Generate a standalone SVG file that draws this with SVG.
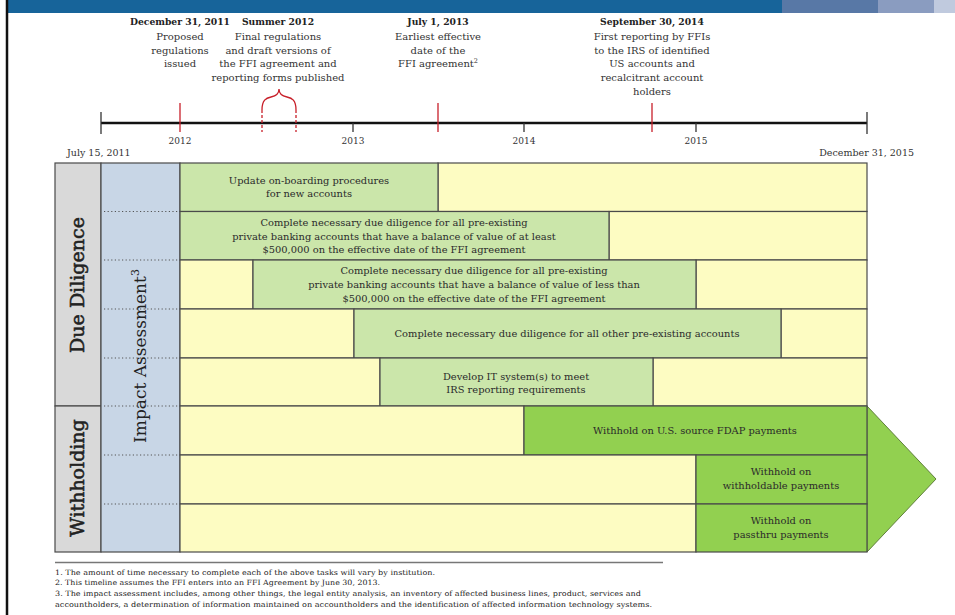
<svg xmlns="http://www.w3.org/2000/svg" width="955" height="615" viewBox="0 0 955 615">
<style>
text{font-family:"DejaVu Serif","Liberation Serif",serif;fill:#333}
.hd{font-size:9.2px;font-weight:bold;text-anchor:middle;fill:#222}
.ds{font-size:10px;text-anchor:middle}
.yr{font-size:9px;text-anchor:middle}
.bx{font-size:9.9px;text-anchor:middle;fill:#2a2a2a}
.fn{font-size:7.3px;fill:#222}
.cell{stroke:#4a4a4a;stroke-width:1.2}
.g{fill:#cbe6aa}
.y{fill:#fdfcc2}
.gg{fill:#92d050}
.red{stroke:#c8202a;stroke-width:1.3;fill:none}
.dot{stroke:#555;stroke-width:1;stroke-dasharray:1.2 2.4}
.side{font-size:19px;text-anchor:middle;fill:#222;stroke:#222;stroke-width:0.55}
</style>
<rect x="0" y="0" width="955" height="615" fill="#fff"/>
<g id="header">
<rect x="8" y="0" width="774" height="13" fill="#17649a"/>
<rect x="782" y="0" width="96" height="13" fill="#5878a6"/>
<rect x="878" y="0" width="56" height="13" fill="#8a9cc0"/>
<rect x="934" y="0" width="21" height="13" fill="#c0cade"/>
<line x1="7" y1="0" x2="7" y2="615" stroke="#111" stroke-width="2.5"/>
</g>
<g id="timeline">
<line x1="101" y1="123" x2="867" y2="123" stroke="#111" stroke-width="2.5"/>
<line x1="101" y1="112" x2="101" y2="134" stroke="#333" stroke-width="1.3"/>
<line x1="867" y1="112" x2="867" y2="134" stroke="#333" stroke-width="1.3"/>
<line x1="353" y1="123" x2="353" y2="132" stroke="#333" stroke-width="1.3"/>
<line x1="524" y1="123" x2="524" y2="132" stroke="#333" stroke-width="1.3"/>
<line x1="696" y1="123" x2="696" y2="132" stroke="#333" stroke-width="1.3"/>
<line class="red" x1="180" y1="103" x2="180" y2="132"/>
<line class="red" x1="438" y1="103" x2="438" y2="132"/>
<line class="red" x1="652" y1="103" x2="652" y2="132"/>
<path class="red" d="M262,110 C262,100 266,98 271,97 C276,96 279,94 279,89 C279,94 282,96 287,97 C292,98 296,100 296,110"/>
<line class="red" x1="262" y1="110" x2="262" y2="132" stroke-dasharray="3 2"/>
<line class="red" x1="296" y1="110" x2="296" y2="132" stroke-dasharray="3 2"/>
<text class="yr" x="180" y="144">2012</text>
<text class="yr" x="353" y="144">2013</text>
<text class="yr" x="524" y="144">2014</text>
<text class="yr" x="696" y="144">2015</text>
<text x="67" y="156" style="font-size:9.5px">July 15, 2011</text>
<text x="914" y="156" style="font-size:9.5px;text-anchor:end">December 31, 2015</text>
</g>
<g id="milestone-dec2011">
<text class="hd" x="180" y="25">December 31, 2011</text>
<text class="ds" x="180" y="40">Proposed</text>
<text class="ds" x="180" y="54">regulations</text>
<text class="ds" x="180" y="67">issued</text>
</g>
<g id="milestone-summer2012">
<text class="hd" x="278" y="25">Summer 2012</text>
<text class="ds" x="278" y="40">Final regulations</text>
<text class="ds" x="278" y="54">and draft versions of</text>
<text class="ds" x="278" y="67">the FFI agreement and</text>
<text class="ds" x="278" y="81">reporting forms published</text>
</g>
<g id="milestone-jul2013">
<text class="hd" x="438" y="25">July 1, 2013</text>
<text class="ds" x="438" y="40">Earliest effective</text>
<text class="ds" x="438" y="54">date of the</text>
<text class="ds" x="438" y="67">FFI agreement<tspan style="font-size:6.5px" dy="-4">2</tspan></text>
</g>
<g id="milestone-sep2014">
<text class="hd" x="652" y="25">September 30, 2014</text>
<text class="ds" x="652" y="40">First reporting by FFIs</text>
<text class="ds" x="652" y="54">to the IRS of identified</text>
<text class="ds" x="652" y="67">US accounts and</text>
<text class="ds" x="652" y="81">recalcitrant account</text>
<text class="ds" x="652" y="95">holders</text>
</g>
<g id="arrow">
<polygon points="867,406 936,479 867,552" fill="#92d050" stroke="#5f7f3a" stroke-width="1"/>
</g>
<g id="due-diligence">
<rect class="cell" x="55" y="163" width="46" height="243" fill="#d9d9d9"/>
<text class="side" transform="translate(84,285) rotate(-90)">Due Diligence</text>
</g>
<g id="withholding">
<rect class="cell" x="55" y="406" width="46" height="146" fill="#d9d9d9"/>
<text class="side" transform="translate(84,478) rotate(-90)">Withholding</text>
</g>
<g id="impact-assessment">
<rect class="cell" x="101" y="163" width="79" height="389" fill="#c8d6e6"/>
<line class="dot" x1="104" y1="211.5" x2="178" y2="211.5"/>
<line class="dot" x1="104" y1="260" x2="178" y2="260"/>
<line class="dot" x1="104" y1="309" x2="178" y2="309"/>
<line class="dot" x1="104" y1="358" x2="178" y2="358"/>
<line class="dot" x1="104" y1="406" x2="178" y2="406"/>
<line class="dot" x1="104" y1="455" x2="178" y2="455"/>
<line class="dot" x1="104" y1="504" x2="178" y2="504"/>
<text transform="translate(146,356) rotate(-90)" style="font-size:17px;text-anchor:middle;fill:#222">Impact Assessment<tspan style="font-size:11px" dy="-7">3</tspan></text>
</g>
<g id="row1">
<rect class="cell y" x="438" y="163" width="429" height="48.5"/>
<rect class="cell g" x="180" y="163" width="258" height="48.5"/>
<text class="bx" x="309" y="184">Update on-boarding procedures</text>
<text class="bx" x="309" y="197">for new accounts</text>
</g>
<g id="row2">
<rect class="cell y" x="609" y="211.5" width="258" height="48.5"/>
<rect class="cell g" x="180" y="211.5" width="429" height="48.5"/>
<text class="bx" x="394" y="226">Complete necessary due diligence for all pre-existing</text>
<text class="bx" x="394" y="239.5">private banking accounts that have a balance of value of at least</text>
<text class="bx" x="394" y="253">$500,000 on the effective date of the FFI agreement</text>
</g>
<g id="row3">
<rect class="cell y" x="180" y="260" width="73" height="49"/>
<rect class="cell y" x="696" y="260" width="171" height="49"/>
<rect class="cell g" x="253" y="260" width="443" height="49"/>
<text class="bx" x="474" y="274">Complete necessary due diligence for all pre-existing</text>
<text class="bx" x="474" y="288">private banking accounts that have a balance of value of less than</text>
<text class="bx" x="474" y="301.5">$500,000 on the effective date of the FFI agreement</text>
</g>
<g id="row4">
<rect class="cell y" x="180" y="309" width="174" height="49"/>
<rect class="cell y" x="781" y="309" width="86" height="49"/>
<rect class="cell g" x="354" y="309" width="427" height="49"/>
<text class="bx" x="567" y="337">Complete necessary due diligence for all other pre-existing accounts</text>
</g>
<g id="row5">
<rect class="cell y" x="180" y="358" width="200" height="48"/>
<rect class="cell y" x="653" y="358" width="214" height="48"/>
<rect class="cell g" x="380" y="358" width="273" height="48"/>
<text class="bx" x="516" y="380">Develop IT system(s) to meet</text>
<text class="bx" x="516" y="393">IRS reporting requirements</text>
</g>
<g id="row6">
<rect class="cell y" x="180" y="406" width="344" height="49"/>
<rect class="cell gg" x="524" y="406" width="343" height="49"/>
<text class="bx" x="695" y="434">Withhold on U.S. source FDAP payments</text>
</g>
<g id="row7">
<rect class="cell y" x="180" y="455" width="516" height="49"/>
<rect class="cell gg" x="696" y="455" width="171" height="49"/>
<text class="bx" x="781" y="475">Withhold on</text>
<text class="bx" x="781" y="489">withholdable payments</text>
</g>
<g id="row8">
<rect class="cell y" x="180" y="504" width="516" height="48"/>
<rect class="cell gg" x="696" y="504" width="171" height="48"/>
<text class="bx" x="781" y="524">Withhold on</text>
<text class="bx" x="781" y="538">passthru payments</text>
</g>
<g id="footnotes">
<line x1="55" y1="562.5" x2="663" y2="562.5" stroke="#777" stroke-width="1.5"/>
<text class="fn" x="55" y="575" textLength="380" lengthAdjust="spacingAndGlyphs">1. The amount of time necessary to complete each of the above tasks will vary by institution.</text>
<text class="fn" x="55" y="585" textLength="325" lengthAdjust="spacingAndGlyphs">2. This timeline assumes the FFI enters into an FFI Agreement by June 30, 2013.</text>
<text class="fn" x="55" y="596" textLength="586" lengthAdjust="spacingAndGlyphs">3. The impact assessment includes, among other things,  the legal entity analysis, an inventory of affected business lines, product, services and</text>
<text class="fn" x="55" y="607" textLength="597" lengthAdjust="spacingAndGlyphs">accountholders, a determination of information maintained on accountholders and the identification of affected information technology systems.</text>
</g>
</svg>
